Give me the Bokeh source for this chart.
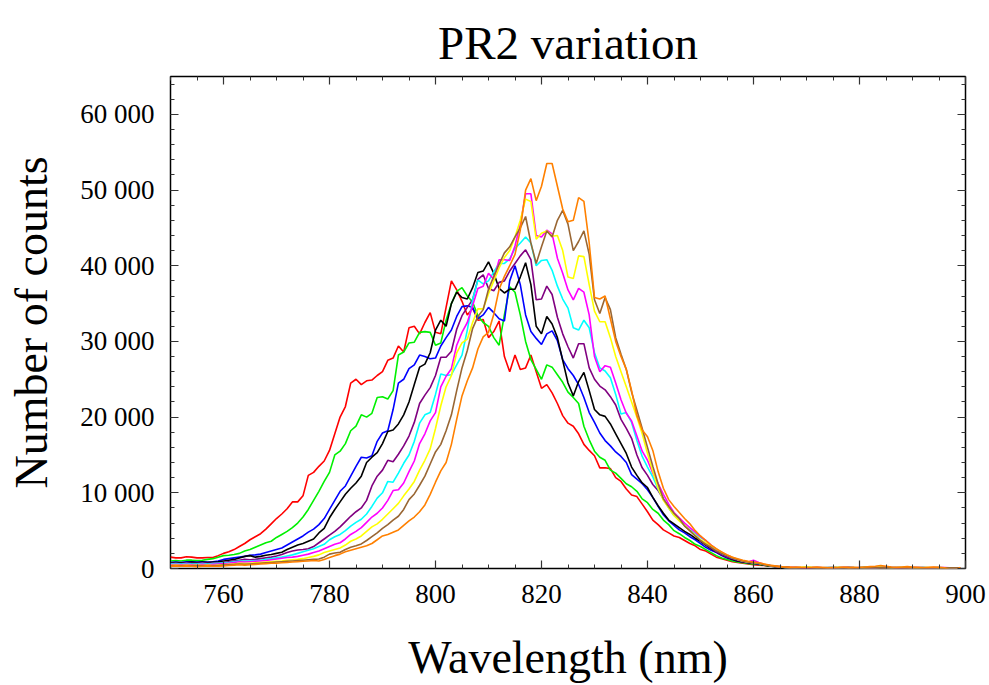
from bokeh.plotting import figure
from bokeh.models import LinearAxis, FixedTicker, Range1d, CustomJSTickFormatter
from bokeh.embed import file_html
from bokeh.resources import INLINE

# wavelength grid (nm), 750 ... 899
wavelength = list(range(750, 900))

red = [
    1500, 1400, 1400, 1550, 1500, 1400, 1400, 1450, 1450, 1700,
    2000, 2200, 2500, 2900, 3300, 3800, 4200, 4600, 5200, 5900,
    6600, 7200, 7900, 8800, 8800, 9600, 12300, 12700, 13500, 14200,
    15600, 17800, 20000, 21400, 24500, 25000, 24300, 24800, 24900, 25500,
    26000, 27500, 27800, 29400, 28600, 31800, 32000, 31000, 32500, 33800,
    31200, 31000, 34500, 38000, 36800, 35300, 33500, 34400, 32800, 32900,
    30500, 31300, 32700, 28000, 26000, 28200, 26300, 26500, 28200, 26000,
    23800, 24300, 23200, 21800, 20200, 19200, 18800, 17800, 16400, 15600,
    14900, 13300, 13300, 13200, 12000, 11500, 10500, 9700, 9500, 8500,
    7500, 6400, 5800, 5100, 4700, 4300, 4100, 3700, 3300, 3000,
    2500, 2300, 1900, 1500, 1300, 1100, 900, 800, 700, 600,
    500, 450, 400, 350, 300, 250, 200, 150, 100, 120,
    100, 80, 60, 100, 120, 100, 80, 100, 150, 120,
    100, 80, 60, 100, 150, 120, 100, 80, 120, 150,
    100, 80, 60, 100, 120, 100, 50, 0, 50, 100,
]

green = [
    1000, 1050, 1000, 1100, 1100, 1050, 1100, 1200, 1300, 1500,
    1700, 1750, 1850, 2000, 2300, 2500, 2800, 3100, 3400, 3600,
    4100, 4500, 4900, 5400, 6000, 6800, 7800, 9000, 10200, 11500,
    12700, 15000, 15500, 16500, 18200, 18800, 20300, 20000, 20500, 22600,
    22700, 22400, 23500, 28200, 28600, 29800, 29900, 31200, 31300, 31200,
    29500, 29800, 32800, 35000, 36600, 37100, 36000, 35200, 33400, 32500,
    32000, 30500, 29500, 33500, 37200, 36500, 33500, 30000, 27600, 26300,
    25000, 26900, 26600, 25600, 24600, 23300, 22600, 21800, 18800, 17000,
    15500, 14700, 14300, 13000, 12600, 11900, 11200, 10800, 10200, 9200,
    8700, 7800, 7300, 6400, 5800, 5000, 4600, 4100, 3700, 3200,
    2900, 2500, 2100, 1700, 1400, 1200, 1000, 850, 750, 650,
    600, 550, 450, 350, 300, 200, 150, 100, 80, 100,
    120, 100, 80, 60, 80, 100, 120, 100, 80, 100,
    120, 150, 100, 80, 120, 100, 80, 60, 100, 120,
    100, 80, 120, 100, 60, 80, 100, 50, 80, 100,
]

blue = [
    800, 850, 800, 900, 900, 850, 900, 850, 900, 1000,
    1200, 1300, 1400, 1500, 1600, 1750, 1800, 1900, 2100, 2300,
    2500, 2700, 3100, 3500, 3900, 4300, 4800, 5200, 5800, 6600,
    7800, 9000, 10200, 10900, 12200, 13500, 14700, 14600, 14900, 16800,
    17900, 18200, 21000, 24500, 25000, 26400, 26900, 28200, 28000, 27700,
    27800, 29400, 30500, 31500, 33300, 34600, 34700, 34500, 33000, 33500,
    34500, 33800, 33000, 32700, 38000, 40000, 37500, 33500, 31300, 30400,
    29600, 31000, 31400, 30100, 27600, 26400, 25500, 24300, 22600, 20600,
    19300, 17900, 16900, 16200, 15400, 14800, 14000, 12400, 11800, 11200,
    10400, 9400, 8200, 7100, 6300, 5700, 5100, 4700, 4200, 3800,
    3300, 2800, 2400, 2100, 1700, 1400, 1200, 1000, 850, 750,
    700, 600, 500, 400, 300, 250, 150, 100, 120, 80,
    60, 100, 120, 100, 80, 60, 100, 120, 100, 80,
    100, 120, 100, 80, 100, 150, 100, 60, 80, 100,
    120, 100, 80, 100, 60, 80, 100, 60, 80, 60,
]

black = [
    750, 800, 750, 800, 850, 800, 850, 800, 850, 900,
    1000, 1100, 1200, 1400, 1600, 1700, 1500, 1600, 1750, 1850,
    2000, 2150, 2500, 2800, 3100, 3300, 3600, 3900, 4700, 5300,
    6700, 7800, 8800, 9800, 10600, 11300, 12200, 14000, 14700, 15300,
    16500, 18100, 18300, 19100, 20300, 22000, 24300, 26600, 27000, 28500,
    31500, 32800, 32000, 35000, 36500, 35800, 35600, 37100, 39100, 39300,
    40500, 39000, 37000, 36400, 36900, 36900, 38500, 40400, 37500, 32000,
    31000, 33300, 32300, 30500, 27500, 24500, 22800, 24700, 25900, 23500,
    21000, 20300, 20100, 19100, 17800, 16500, 15200, 13400, 12300, 11300,
    10700, 9400, 8300, 7300, 6400, 5900, 5400, 4900, 4500, 4000,
    3600, 3100, 2600, 2200, 1800, 1500, 1200, 1000, 850, 750,
    700, 600, 450, 350, 250, 200, 150, 100, 80, 60,
    80, 100, 80, 60, 100, 120, 100, 80, 60, 100,
    80, 100, 120, 100, 80, 60, 100, 120, 80, 60,
    80, 100, 60, 80, 100, 120, 80, 60, 80, 100,
]

purple = [
    700, 700, 650, 750, 700, 700, 750, 700, 700, 750,
    800, 900, 1000, 1100, 1200, 1150, 1200, 1300, 1400, 1500,
    1650, 1850, 2100, 2300, 2450, 2500, 2600, 2900, 3400, 3900,
    4400, 4900, 5500, 6200, 6900, 7500, 8000, 9000, 10900, 12200,
    13000, 14300, 14100, 15100, 16200, 17500, 19300, 21800, 22900, 23900,
    25500, 27900, 27900, 28700, 31600, 33400, 34500, 35500, 38200, 38800,
    37000, 36700, 37800, 38000, 39300, 40300, 41300, 42100, 40800, 35500,
    35600, 37300, 36200, 33200, 31000, 29300, 27800, 29700, 29700, 26500,
    25000, 24100, 23600, 22700, 21600, 19700, 18500, 17200, 15000, 13300,
    12300, 11100, 10300, 9200, 8100, 7100, 6400, 5700, 5000, 4400,
    3700, 3200, 2700, 2200, 1800, 1500, 1300, 1100, 900, 800,
    700, 650, 500, 400, 300, 200, 150, 100, 60, 80,
    100, 120, 100, 80, 60, 100, 80, 100, 120, 100,
    80, 60, 100, 120, 100, 150, 120, 80, 100, 60,
    80, 100, 120, 80, 60, 100, 80, 100, 60, 80,
]

cyan = [
    600, 650, 600, 650, 600, 600, 650, 600, 650, 700,
    750, 800, 900, 1000, 950, 1000, 1050, 1100, 1200, 1300,
    1400, 1500, 1650, 1800, 2000, 2200, 2400, 2600, 2900, 3200,
    3800, 4200, 4500, 5000, 5600, 6100, 6500, 7200, 8200, 9300,
    10000, 11500, 11400, 12600, 13900, 15000, 16800, 19200, 20300, 20600,
    23000, 25700, 25500, 25600, 26900, 28200, 31500, 35500, 38100, 37600,
    38000, 39200, 40300, 40300, 40900, 42300, 43000, 43800, 43000, 40000,
    40700, 40800, 39400, 37300, 35600, 34400, 31800, 31500, 32800, 31800,
    28500, 26500, 26100, 25200, 23000, 20400, 20600, 19300, 16900, 14800,
    13400, 12100, 10500, 9200, 8000, 7000, 6400, 5700, 5100, 4600,
    4100, 3700, 3000, 2500, 2000, 1700, 1400, 1200, 1000, 850,
    750, 650, 500, 400, 300, 200, 120, 100, 80, 100,
    120, 100, 80, 100, 120, 80, 60, 100, 120, 100,
    80, 100, 60, 80, 120, 100, 80, 100, 120, 80,
    100, 60, 80, 100, 80, 100, 60, 80, 100, 60,
]

magenta = [
    500, 550, 500, 550, 500, 500, 550, 500, 550, 600,
    650, 700, 800, 900, 850, 900, 950, 1000, 1050, 1150,
    1250, 1350, 1450, 1500, 1600, 1750, 1900, 2100, 2300, 2600,
    2900, 3200, 3400, 3900, 4500, 4900, 5400, 6100, 6800, 7300,
    8000, 9000, 10300, 10400, 11300, 12800, 14200, 16500, 17800, 19500,
    20600, 24000, 25400, 26400, 29500, 31200, 32500, 34700, 37000, 37300,
    39000, 38200, 40800, 40800, 40700, 42600, 45500, 49500, 49500, 44000,
    43800, 44700, 44200, 41000, 39000, 36800, 35500, 37000, 36500, 33500,
    28000, 26000, 26800, 26600, 24500, 22300, 20500, 19500, 17500, 15500,
    14300, 12600, 11200, 9800, 8500, 7400, 6700, 6000, 5400, 4800,
    4200, 3700, 3100, 2600, 2100, 1800, 1500, 1200, 1000, 850,
    1100, 800, 550, 400, 300, 200, 150, 100, 120, 100,
    80, 100, 120, 100, 80, 60, 100, 120, 80, 100,
    120, 100, 80, 60, 100, 120, 100, 80, 60, 100,
    80, 120, 100, 80, 60, 100, 120, 80, 60, 80,
]

yellow = [
    400, 450, 400, 450, 400, 450, 400, 450, 400, 450,
    500, 550, 600, 700, 650, 700, 750, 800, 850, 900,
    950, 1000, 1100, 1150, 1200, 1300, 1450, 1600, 1800, 2100,
    2300, 2500, 2700, 3100, 3600, 3900, 4300, 4900, 5500, 5900,
    6500, 7200, 7900, 8600, 9600, 10500, 11500, 13000, 14300, 15800,
    18500, 21500, 24000, 25500, 28500, 29800, 30300, 32500, 34300, 34300,
    36300, 38000, 39700, 41100, 42000, 43800, 46000, 48800, 48500, 43500,
    44300, 44600, 43900, 44000, 42000, 38500, 38300, 41300, 41200, 37500,
    34000, 32600, 32600, 30500, 28000, 26000, 24000, 22000, 20000, 17800,
    15200, 12800, 10600, 9000, 8000, 7000, 6300, 5700, 5000, 4400,
    3800, 3400, 3000, 2600, 2100, 1800, 1500, 1200, 1000, 850,
    750, 700, 550, 400, 300, 250, 150, 120, 100, 150,
    200, 150, 120, 100, 80, 100, 120, 100, 80, 120,
    100, 80, 100, 120, 150, 100, 80, 100, 120, 100,
    80, 60, 100, 120, 100, 80, 60, 100, 80, 60,
]

brown = [
    350, 400, 350, 400, 350, 400, 350, 400, 350, 400,
    450, 500, 550, 600, 550, 600, 650, 700, 750, 800,
    850, 900, 950, 1000, 1050, 1100, 1150, 1200, 1250, 1500,
    1900, 2050, 2150, 2500, 2800, 3000, 3250, 3700, 4200, 4700,
    5300, 5800, 6400, 6900, 7800, 9100, 9850, 11000, 12200, 13800,
    15400, 16400, 18200, 20300, 23500, 26500, 28800, 31700, 33300, 34200,
    36900, 38600, 40200, 41700, 42500, 43800, 45000, 46500, 43000, 40300,
    42500, 44600, 43800, 46000, 47300, 45500, 42000, 43200, 44600, 41500,
    35500, 33700, 35800, 34200, 30500, 28300, 26300, 23300, 20900, 18500,
    16000, 13500, 11200, 9200, 8200, 7300, 6600, 5600, 5000, 4300,
    3700, 3200, 2800, 2300, 2000, 1700, 1400, 1200, 1000, 850,
    750, 700, 500, 400, 300, 200, 150, 100, 80, 100,
    120, 100, 80, 60, 100, 120, 100, 80, 100, 120,
    100, 80, 120, 100, 80, 100, 120, 100, 60, 80,
    100, 120, 80, 60, 100, 80, 60, 80, 100, 80,
]

orange = [
    300, 350, 300, 350, 300, 250, 300, 350, 300, 300,
    350, 400, 450, 500, 450, 500, 550, 600, 650, 700,
    700, 750, 800, 850, 900, 950, 1000, 1050, 1000, 1200,
    1450, 1700, 1900, 2200, 2400, 2600, 2800, 3000, 3300, 3800,
    4300, 4500, 4800, 5100, 5700, 6300, 6800, 7500, 8400, 9800,
    11400, 12900, 14000, 16400, 19700, 22800, 24800, 26500, 29000, 30600,
    31200, 33600, 36900, 38600, 40000, 41500, 44700, 50000, 51500, 48600,
    50500, 53500, 53500, 50500, 47500, 45800, 46000, 49000, 48500, 43000,
    35800, 35600, 36000, 33000, 30000, 28000, 26300, 23500, 20200, 18300,
    17400, 15600, 12800, 10600, 9100, 8200, 7400, 6600, 5900, 5000,
    4300, 3700, 3100, 2600, 2200, 1800, 1500, 1300, 1100, 950,
    850, 750, 600, 450, 350, 250, 200, 150, 200, 150,
    120, 150, 200, 150, 100, 120, 150, 200, 150, 120,
    150, 200, 250, 300, 400, 300, 200, 150, 200, 250,
    200, 150, 100, 150, 200, 150, 100, -200, -300, 150,
]

series = [red, green, blue, black, purple, cyan, magenta, yellow, brown, orange]
colors = ["#ff0000", "#00f000", "#0000ff", "#000000", "#800080",
          "#00ffff", "#ff00ff", "#ffff00", "#996633", "#ff8000"]

x_major = [760, 780, 800, 820, 840, 860, 880, 900]
x_minor = list(range(750, 905, 5))
y_major = [0, 10000, 20000, 30000, 40000, 50000, 60000]
y_tick_labels = ["0", "10 000", "20 000", "30 000", "40 000", "50 000", "60 000"]
y_minor = list(range(0, 66000, 2000))

FONT = "Liberation Serif"

p = figure(width=989, height=685, output_backend="svg", toolbar_location=None,
           x_range=Range1d(750, 900), y_range=Range1d(0, 65000),
           min_border_left=170, min_border_right=24, min_border_top=76,
           min_border_bottom=117, background_fill_color="white",
           border_fill_color="white")

p.title.text = "PR2 variation"
p.title.align = "center"
p.title.vertical_align = "top"
p.title.text_font = FONT
p.title.text_font_size = "47px"
p.title.text_font_style = "normal"
p.title.text_color = "black"
p.title.standoff = 12

p.xgrid.grid_line_color = None
p.ygrid.grid_line_color = None
p.outline_line_color = "black"
p.outline_line_width = 1.5
p.outline_line_alpha = 1.0

for c, vals in zip(colors, series):
    p.line(wavelength, vals, line_color=c, line_width=1.6)

def style_axis(ax, show_labels):
    ax.axis_line_color = None
    ax.major_tick_in = 8
    ax.major_tick_out = 0
    ax.minor_tick_in = 4
    ax.minor_tick_out = 0
    ax.major_tick_line_color = "#333333"
    ax.minor_tick_line_color = "#333333"
    ax.major_tick_line_width = 1.2
    ax.minor_tick_line_width = 1
    ax.major_label_text_font = FONT
    ax.major_label_text_font_size = "27px"
    ax.major_label_text_color = "black"
    if not show_labels:
        ax.formatter = CustomJSTickFormatter(code="return ''")
        ax.major_label_standoff = 0

xb = p.xaxis[0]
xb.ticker = FixedTicker(ticks=x_major, minor_ticks=x_minor)
style_axis(xb, True)
xb.major_label_standoff = 16
xb.axis_label = "Wavelength (nm)"
xb.axis_label_text_font = FONT
xb.axis_label_text_font_size = "46px"
xb.axis_label_text_font_style = "normal"
xb.axis_label_text_color = "black"
xb.axis_label_standoff = 26

yl = p.yaxis[0]
yl.ticker = FixedTicker(ticks=y_major, minor_ticks=y_minor)
style_axis(yl, True)
yl.major_label_overrides = {v: s for v, s in zip(y_major, y_tick_labels)}
yl.major_label_standoff = 16
yl.axis_label = "Number of counts"
yl.axis_label_text_font = FONT
yl.axis_label_text_font_size = "46px"
yl.axis_label_text_font_style = "normal"
yl.axis_label_text_color = "black"
yl.axis_label_standoff = 20

xt = LinearAxis(ticker=FixedTicker(ticks=x_major, minor_ticks=x_minor))
style_axis(xt, False)
p.add_layout(xt, "above")

yr = LinearAxis(ticker=FixedTicker(ticks=y_major, minor_ticks=y_minor))
style_axis(yr, False)
p.add_layout(yr, "right")

open("out.html", "w").write(file_html(p, INLINE))
